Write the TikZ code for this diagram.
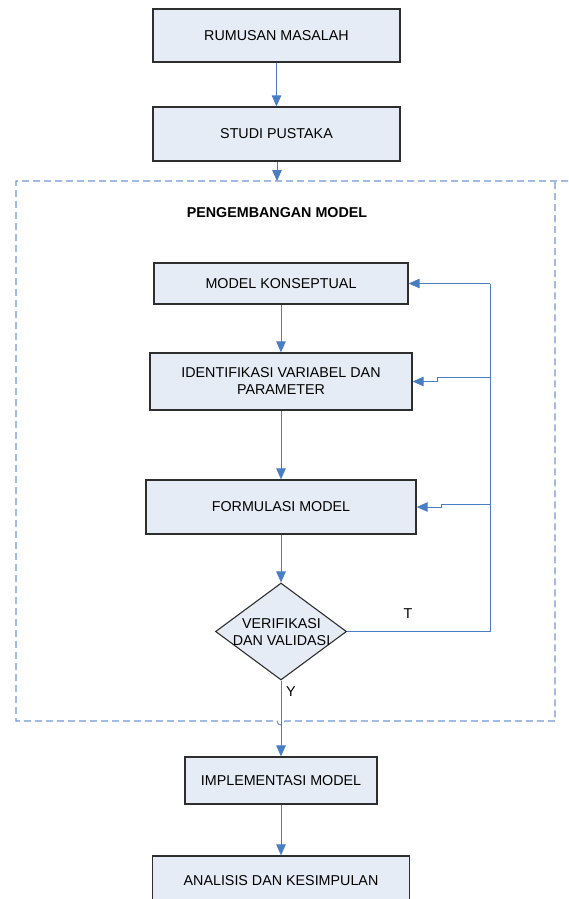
\documentclass[tikz,border=0pt]{standalone}
\usepackage{fontspec}
\setmainfont{Liberation Sans}
\usetikzlibrary{shapes.geometric,arrows.meta}
\definecolor{boxfill}{HTML}{E6ECF6}
\definecolor{boxline}{HTML}{2E2E2E}
\definecolor{arr}{HTML}{4A7EC4}
\definecolor{dash}{HTML}{6F97D2}
\tikzset{
  x=1pt,y=-1pt,
  every node/.style={font=\fontsize{14.3}{17}\selectfont, text=black},
  stepbox/.style={draw=boxline, line width=1.3pt, fill=boxfill, inner sep=0pt, align=center},
  conn/.style={draw=arr, line width=1pt, -{Triangle[length=11pt,width=9.5pt]}},
  fb/.style={draw=arr, line width=1pt},
  dashline/.style={draw=dash, line width=1.1pt, dash pattern=on 7pt off 4pt},
}
\begin{document}
\begin{tikzpicture}
\useasboundingbox (0,0) rectangle (568,899);
% boxes
\node[stepbox, minimum width=247pt, minimum height=53pt] (rm) at (276.5,35.5) {RUMUSAN MASALAH};
\node[stepbox, minimum width=247pt, minimum height=54pt] (sp) at (276.5,134) {STUDI PUSTAKA};
% dashed frame
\coordinate (tl) at (16,181);
\coordinate (tr) at (568,181);
\coordinate (rt) at (555,181);
\coordinate (rb) at (555,721);
\coordinate (bl) at (16,721);
\draw[dashline] (tr) -- (tl) -- (bl) -- (277,721) arc[start angle=180, end angle=0, radius=4] -- (rb) -- (rt);
\node[font=\fontsize{14.3}{17}\selectfont\bfseries] (pm) at (277,213) {PENGEMBANGAN MODEL};
\node[stepbox, minimum width=254pt, minimum height=41pt] (mk) at (281,283.5) {MODEL KONSEPTUAL};
\node[stepbox, minimum width=262pt, minimum height=57pt] (iv) at (281,381.5) {IDENTIFIKASI VARIABEL DAN\\PARAMETER};
\node[stepbox, minimum width=270pt, minimum height=54pt] (fm) at (281,507) {FORMULASI MODEL};
\node[diamond, draw=boxline, line width=1.1pt, fill=boxfill, minimum width=131pt, minimum height=97pt, inner sep=0pt] (dv) at (281,631.5) {};
\node[align=center] (dvt) at (281.5,632) {VERIFIKASI\\DAN VALIDASI};
\node (tt) at (408,614) {T};
\node (yy) at (291,692) {Y};
\node[stepbox, minimum width=192pt, minimum height=47pt] (im) at (281,780.5) {IMPLEMENTASI MODEL};
\node[stepbox, minimum width=257pt, minimum height=50pt] (ak) at (281,881) {ANALISIS DAN KESIMPULAN};
% connectors
\draw[conn] (rm.south) -- (sp.north);
\coordinate (fr) at (277,181);
\draw[conn] (sp.south -| fr) -- (fr);
\draw[conn] (mk) -- (iv);
\draw[conn] (iv) -- (fm);
\draw[conn] (fm.south) -- (dv.north);
\draw[conn] (dv.south) -- (im.north);
\draw[conn] (im) -- (ak);
% feedback
\coordinate (c1) at (490,283.5);
\coordinate (c2) at (490,377);
\coordinate (c3) at (490,504);
\draw[fb] (dv.east) -- (dv.east -| c1) -- (c1);
\draw[conn] (c1) -- (mk.east);
\draw[conn] (c2) -- (437,377) -- (437,381.5) -- (iv.east);
\draw[conn] (c3) -- (441,504) -- (441,507) -- (fm.east);
\end{tikzpicture}
\end{document}
